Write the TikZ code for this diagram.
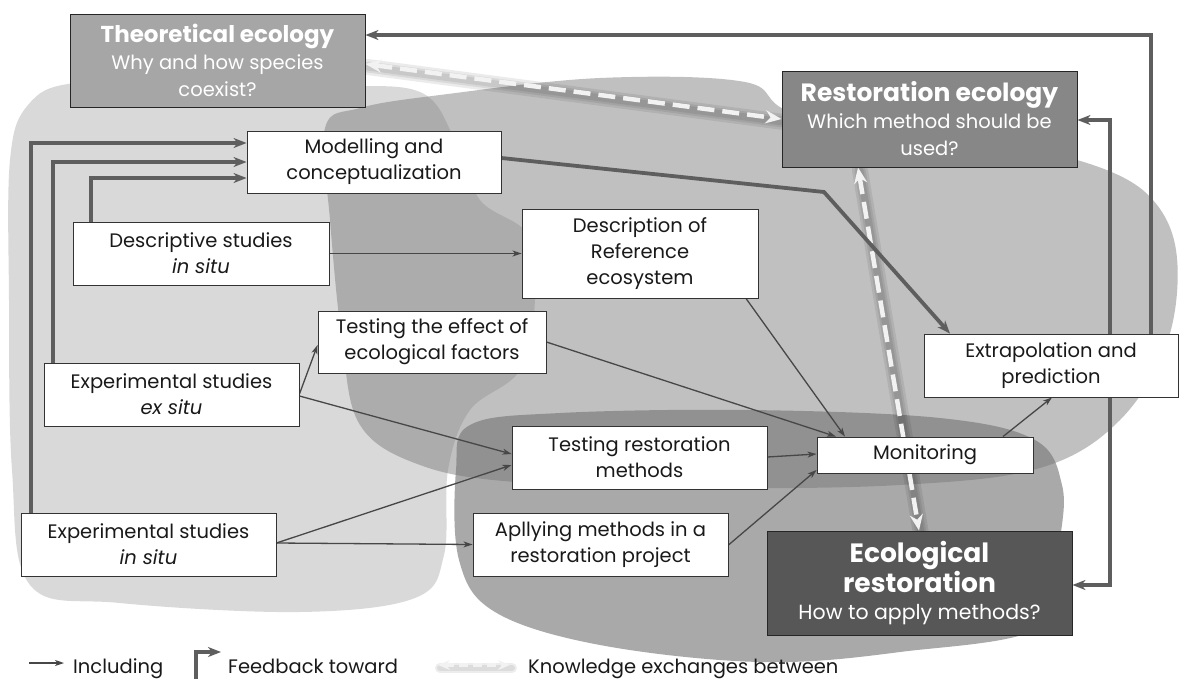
\documentclass[tikz,border=0pt]{standalone}
\usepackage{fontspec}
\setmainfont{Poppins}
\usetikzlibrary{arrows.meta,calc}
\pgfdeclarelayer{blobs}
\pgfdeclarelayer{links}
\pgfsetlayers{blobs,links,main}

\definecolor{blobA}{HTML}{D9D9D9}
\definecolor{blobB}{HTML}{818181}
\definecolor{blobC}{HTML}{757575}
\definecolor{fbgray}{HTML}{5E5E5E}
\definecolor{theofill}{HTML}{A6A6A6}
\definecolor{restofill}{HTML}{878787}
\definecolor{ecofill}{HTML}{575757}
\definecolor{kxwhite}{HTML}{F2F2F2}

\newcommand{\ecotitle}[1]{{\fontsize{26.5}{30}\selectfont\bfseries #1}}

\begin{document}
\begin{tikzpicture}[x=1pt,y=-1pt,
  box/.style={draw=black!80, line width=0.9pt, fill=white, align=center,
    inner sep=2pt, text=black!90, font=\fontsize{19.5}{26}\selectfont},
  headbox/.style={draw=black!85, line width=0.9pt, align=center, inner sep=2pt,
    text=white, font=\fontsize{19.5}{27}\selectfont},
  fb/.style={draw=fbgray, line width=3.8pt, line join=miter,
    -{Stealth[length=13pt,width=10pt,inset=4pt]}},
  thinlink/.style={draw=black!72, line width=1.3pt,
    -{Stealth[length=9pt,width=6pt,inset=2.5pt]}},
  kx/.style={draw=kxwhite, line width=4.5pt, dash pattern=on 17pt off 8pt,
    {Stealth[length=16pt,width=13pt,inset=5pt]}-{Stealth[length=16pt,width=13pt,inset=5pt]}},
  kxshade/.style={draw=black, line width=#1, opacity=0.08, line cap=round,
    transform canvas={shift={(2,3)}}},
  legendtext/.style={anchor=base west, inner sep=0pt, text=black!90,
    font=\fontsize{19.5}{22}\selectfont}
]
\useasboundingbox (0,0) rectangle (1179,678);

% ---------- boxes ----------
\node[headbox, fill=theofill, minimum width=295pt, minimum height=93pt] (theo) at (217.5,60.5)
  {{\fontsize{23}{27}\selectfont\bfseries Theoretical ecology}\\ Why and how species\\ coexist?};
\node[headbox, fill=restofill, minimum width=295pt, minimum height=96pt] (resto) at (929.5,119)
  {{\fontsize{25}{28}\selectfont\bfseries Restoration ecology}\\ Which method should be\\ used?};
\node[headbox, fill=ecofill, minimum width=305pt, minimum height=104pt,
  font=\fontsize{20.5}{27}\selectfont] (ecor) at (919.5,583)
  {\ecotitle{Ecological}\\ \ecotitle{restoration}\\ How to apply methods?};

\node[box, minimum width=254pt, minimum height=62pt] (model) at (374,162) {Modelling and\\ conceptualization};
\node[box, minimum width=256pt, minimum height=63pt] (desc) at (201,253.5) {Descriptive studies\\ \textit{in situ}};
\node[box, minimum width=236pt, minimum height=89pt] (refeco) at (640,253.5) {Description of\\ Reference\\ ecosystem};
\node[box, minimum width=228pt, minimum height=62pt] (teff) at (432,342) {Testing the effect of\\ ecological factors};
\node[box, minimum width=255pt, minimum height=63pt] (exex) at (171.5,394.5) {Experimental studies\\ \textit{ex situ}};
\node[box, minimum width=254pt, minimum height=63pt] (extra) at (1051,365.5) {Extrapolation and\\ prediction};
\node[box, minimum width=216pt, minimum height=36pt] (monit) at (925,455) {Monitoring};
\node[box, minimum width=255pt, minimum height=63pt] (trest) at (639.5,457.5) {Testing restoration\\ methods};
\node[box, minimum width=255pt, minimum height=63pt] (apply) at (600.5,544.5) {Apllying methods in a\\ restoration project};
\node[box, minimum width=255pt, minimum height=63pt] (exin) at (148.5,544.5) {Experimental studies\\ \textit{in situ}};

% ---------- background areas ----------
\begin{pgfonlayer}{blobs}
  \fill[blobA] plot[smooth cycle, tension=0.6] coordinates {
    (10,160) (28,105) (75,83) (200,84) (330,86) (420,92) (455,140) (480,200)
    (528,235) (535,300) (520,370) (470,410) (448,470) (444,555) (415,598)
    (300,612) (120,603) (30,585) (12,470) (9,300)};
  \fill[blobB, opacity=0.5] plot[smooth cycle, tension=0.6] coordinates {
    (325,128) (360,108) (440,95) (600,78) (745,82) (800,115) (1000,150)
    (1077,160) (1145,192) (1176,250) (1168,340) (1120,420) (1040,468)
    (900,485) (700,488) (515,482) (420,465) (360,425) (342,340) (330,220)};
  \fill[blobC, opacity=0.62] plot[smooth cycle, tension=0.6] coordinates {
    (470,425) (560,413) (750,410) (940,418) (1035,440) (1062,485) (1060,540)
    (1045,625) (900,652) (760,662) (600,645) (495,612) (459,560) (456,470)};
\end{pgfonlayer}

% ---------- connectors ----------
\begin{pgfonlayer}{links}
  % knowledge exchanges (with soft shade)
  \foreach \w in {16pt,11pt,7pt}{
    \draw[kxshade=\w] (theo.east |- 0,64) -- (resto.west |- 0,119);
    \draw[kxshade=\w] (resto.south -| 858,0) -- (ecor.north -| 919,0);
  }
  \draw[kx] (theo.east |- 0,64) -- (resto.west |- 0,119);
  \draw[kx] (resto.south -| 858,0) -- (ecor.north -| 919,0);

  % feedback
  \draw[fb] (exin.north -| 31,0) |- (model.west |- 0,143);
  \draw[fb] (exex.north -| 53,0) |- (model.west |- 0,162);
  \draw[fb] (desc.north -| 91,0) |- (model.west |- 0,178);
  \draw[fb] (model.east |- 0,158) -- (824,192) -- (extra.north -| 950,0);
  \draw[fb] (extra.north -| 1151,0) |- (theo.east |- 0,35);
  \draw[fb] (extra.north -| 1110,0) |- (resto.east |- 0,120);
  \draw[fb] (extra.south -| 1110,0) |- (ecor.east |- 0,585);

  % including
  \draw[thinlink] (desc.east) -- (refeco.west);
  \draw[thinlink] (exex.east |- 0,394) -- (teff.west |- 0,345);
  \draw[thinlink] (exex.east |- 0,396) -- (trest.west |- 0,454);
  \draw[thinlink] (exin.east |- 0,543) -- (trest.west |- 0,465);
  \draw[thinlink] (exin.east |- 0,543) -- (apply.west);
  \draw[thinlink] (teff.east |- 0,342) -- (monit.north -| 836,0);
  \draw[thinlink] (refeco.south -| 746,0) -- (monit.north -| 845,0);
  \draw[thinlink] (trest.east |- 0,457) -- (monit.west |- 0,454);
  \draw[thinlink] (apply.east |- 0,545) -- (monit.west |- 0,470);
  \draw[thinlink] (monit.north -| 1003,0) -- (extra.south -| 1052,0);
\end{pgfonlayer}

% ---------- legend ----------
\coordinate (incA) at (29,663);
\coordinate (incB) at (64,663);
\draw[thinlink] (incA) -- (incB);
\node[legendtext] (incT) at (73,673) {Including};

\coordinate (fbA) at (196,682);
\coordinate (fbB) at (221,652);
\draw[fb] (fbA) |- (fbB);
\node[legendtext] (fbT) at (228,673) {Feedback toward};

\coordinate (kxA) at (438,665);
\coordinate (kxB) at (510,665);
\foreach \w in {10pt,6pt}{\draw[kxshade=\w, opacity=0.07] (kxA) -- (kxB);}
\draw[kx, line width=3.5pt, dash pattern=on 9pt off 5pt,
  {Stealth[length=12pt,width=10pt,inset=4pt]}-{Stealth[length=12pt,width=10pt,inset=4pt]}] (kxA) -- (kxB);
\node[legendtext] (kxT) at (528,673) {Knowledge exchanges between};
\end{tikzpicture}
\end{document}
